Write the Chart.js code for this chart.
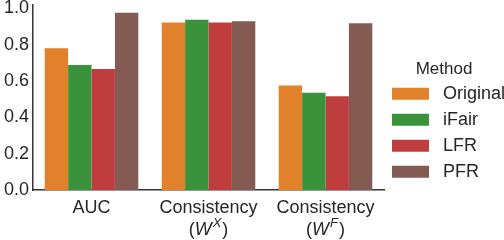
<!DOCTYPE html>
<html>
<head>
<meta charset="utf-8">
<script src="https://cdn.jsdelivr.net/npm/chart.js@4"></script>
<style>
  html, body { margin: 0; padding: 0; background: #fff; }
  #wrap { width: 504px; height: 240px; }
</style>
</head>
<body>
<div id="wrap"><canvas id="chart"></canvas></div>
<script>
const categories = ["AUC", "Consistency (W^X)", "Consistency (W^F)"];
const methods = ["Original", "iFair", "LFR", "PFR"];
const original = [0.781, 0.923, 0.576];
const ifair = [0.689, 0.938, 0.536];
const lfr = [0.667, 0.923, 0.516];
const pfr = [0.977, 0.930, 0.918];
const yTicks = [0, 0.2, 0.4, 0.6, 0.8, 1.0];

// two-line x labels, second line has an italic W with a superscript
const labelLines = [
  { first: "AUC", sup: null },
  { first: "Consistency", sup: "X" },
  { first: "Consistency", sup: "F" }
];

const colors = ["#e1812c", "#3a923a", "#c03d3e", "#845b53"];
const textColor = "#262626";
const fontFamily = "'Liberation Sans', Arial, sans-serif";

const xLabelPlugin = {
  id: "xLabels",
  afterDraw(chart) {
    const ctx = chart.ctx;
    const xs = chart.scales.x;
    const base = chart.chartArea.bottom;
    ctx.save();
    ctx.fillStyle = textColor;
    ctx.textBaseline = "middle";
    labelLines.forEach((lab, i) => {
      const cx = xs.getPixelForTick(i);
      ctx.font = "18px " + fontFamily;
      ctx.textAlign = "center";
      ctx.fillText(lab.first, cx, base + 18.5);
      if (lab.sup) {
        const y2 = base + 40;
        ctx.font = "18px " + fontFamily;
        const wOpen = ctx.measureText("(").width;
        const wClose = ctx.measureText(")").width;
        ctx.font = "italic 18px " + fontFamily;
        const wW = ctx.measureText("W").width;
        ctx.font = "italic 13px " + fontFamily;
        const wS = ctx.measureText(lab.sup).width;
        const total = wOpen + wW + 1 + wS + 1 + wClose;
        let x = cx - total / 2;
        ctx.textAlign = "left";
        ctx.font = "18px " + fontFamily;
        ctx.fillText("(", x, y2);
        x += wOpen;
        ctx.font = "italic 18px " + fontFamily;
        ctx.fillText("W", x, y2);
        x += wW + 1;
        ctx.font = "italic 13px " + fontFamily;
        ctx.fillText(lab.sup, x, y2 - 7);
        x += wS + 1;
        ctx.font = "18px " + fontFamily;
        ctx.fillText(")", x, y2);
      }
    });
    ctx.restore();
  }
};

const seriesData = [original, ifair, lfr, pfr];

new Chart(document.getElementById("chart"), {
  type: "bar",
  data: {
    labels: categories,
    datasets: methods.map((m, i) => ({
      label: m,
      data: seriesData[i],
      backgroundColor: colors[i],
      borderWidth: 0,
      categoryPercentage: 0.8,
      barPercentage: 1.0
    }))
  },
  options: {
    responsive: true,
    maintainAspectRatio: false,
    animation: false,
    layout: { padding: { left: 0, right: 0, top: 5, bottom: 0 } },
    plugins: {
      tooltip: { enabled: false },
      legend: {
        position: "right",
        align: "center",
        maxWidth: 120,
        title: {
          display: true,
          text: "Method",
          color: textColor,
          font: { size: 17, family: fontFamily },
          padding: { top: 5, bottom: -5 }
        },
        labels: {
          boxWidth: 37,
          boxHeight: 12,
          padding: 8,
          color: textColor,
          font: { size: 18, family: fontFamily },
          generateLabels: (chart) => Chart.defaults.plugins.legend.labels.generateLabels(chart)
            .map(item => Object.assign(item, { text: " " + item.text, lineWidth: 0 }))
        }
      }
    },
    scales: {
      x: {
        grid: { display: false, drawTicks: false },
        border: { display: true, color: "#333", width: 1.5 },
        ticks: {
          color: "rgba(0,0,0,0)",
          font: { size: 18, family: fontFamily, lineHeight: 1.2 },
          padding: 3.4,
          maxRotation: 0,
          minRotation: 0,
          autoSkip: false,
          callback: () => ["Consistency", "(W)"]
        }
      },
      y: {
        min: 0,
        max: 1.019,
        afterBuildTicks: (axis) => { axis.ticks = yTicks.map(v => ({ value: v })); },
        afterFit: (axis) => { axis.paddingTop = 0; axis.paddingBottom = 0; },
        grid: { display: false, drawTicks: false },
        border: { display: true, color: "#333", width: 1.5 },
        ticks: {
          color: textColor,
          font: { size: 18, family: fontFamily },
          padding: 4,
          callback: (v) => v.toFixed(1)
        }
      }
    }
  },
  plugins: [xLabelPlugin]
});
</script>
</body>
</html>
